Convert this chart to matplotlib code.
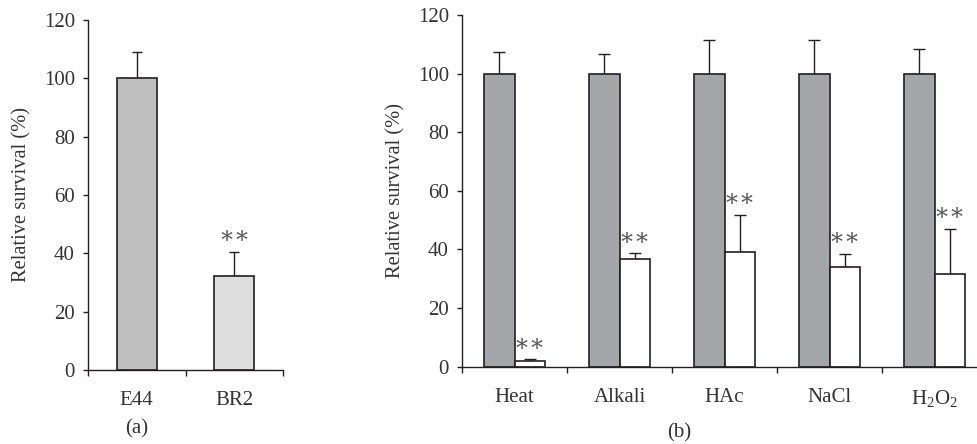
import numpy as np
import matplotlib
matplotlib.use("Agg")
import matplotlib.pyplot as plt

plt.rcParams['font.family'] = ['Liberation Serif', 'DejaVu Serif']
plt.rcParams['mathtext.fontset'] = 'custom'
plt.rcParams['mathtext.rm'] = 'Liberation Serif'

# panel (a)
strains = ['E44', 'BR2']
strain_mean = [100, 32.2]
strain_err = [9.1, 8.4]
strain_colors = ['#c0c0c0', '#dedede']

# panel (b)
stresses = ['Heat', 'Alkali', 'HAc', 'NaCl', r'$\mathrm{H_2O_2}$']
e44_mean = [100, 100, 100, 100, 100]
e44_err = [7.5, 6.8, 11.5, 11.3, 8.4]
br2_mean = [2.0, 36.8, 39.0, 33.9, 31.5]
br2_err = [0.5, 1.9, 12.9, 4.7, 15.6]

TXT = '#333333'
EDGE = '#231f20'


def style_axes(ax):
    for s in ['top', 'right']:
        ax.spines[s].set_visible(False)
    for s in ['left', 'bottom']:
        ax.spines[s].set_color(EDGE)
        ax.spines[s].set_linewidth(1.0)
    ax.set_ylim(0, 120)
    ax.set_yticks(range(0, 121, 20))
    ax.tick_params(axis='y', direction='out', length=3.5, width=1, colors=EDGE,
                   labelcolor=TXT, labelsize=15, pad=6)
    ax.tick_params(axis='x', which='major', length=0, labelcolor=TXT,
                   labelsize=15, pad=15)
    ax.tick_params(axis='x', which='minor', direction='out', length=4,
                   width=1, colors=EDGE)
    ax.set_ylabel('Relative survival (%)', fontsize=14.8, color=TXT, labelpad=9)


def stars(ax, x, y):
    ax.text(x, y + 1.5, '\u2217\u2217', ha='center', va='bottom',
            fontsize=17, color='#555555', family=['DejaVu Serif'])


fig = plt.figure(figsize=(9.77, 4.44), dpi=100)

# (a)
ax1 = fig.add_axes([88 / 977, 74 / 444, 195 / 977, 350 / 444])
xa = np.arange(len(strains))
ax1.bar(xa, strain_mean, width=0.41, color=strain_colors, edgecolor=EDGE,
        linewidth=1.2, zorder=2)
ax1.errorbar(xa, strain_mean, yerr=[np.zeros(2), strain_err], fmt='none',
             ecolor=EDGE, elinewidth=1, capsize=3.5, capthick=1, zorder=1)
ax1.set_xlim(-0.5, 1.5)
ax1.set_xticks(xa)
ax1.set_xticklabels(strains)
ax1.set_xticks([-0.5, 0.5, 1.5], minor=True)
style_axes(ax1)
stars(ax1, xa[1], strain_mean[1] + strain_err[1])
ax1.text(0, -20.3, '(a)', ha='center', va='center', fontsize=15, color=TXT,
         transform=ax1.transData)

# (b)
ax2 = fig.add_axes([462 / 977, 77.3 / 444, 525 / 977, 351.7 / 444])
xb = np.arange(len(stresses))
w = 0.29
ax2.bar(xb - w / 2, e44_mean, width=w, color='#a5a6aa', edgecolor=EDGE,
        linewidth=1.2, zorder=2)
ax2.bar(xb + w / 2, br2_mean, width=w, color='white', edgecolor=EDGE,
        linewidth=1.2, zorder=2)
ax2.errorbar(xb - w / 2, e44_mean, yerr=[np.zeros(5), e44_err], fmt='none',
             ecolor=EDGE, elinewidth=1, capsize=4, capthick=1, zorder=1)
ax2.errorbar(xb + w / 2, br2_mean, yerr=[np.zeros(5), br2_err], fmt='none',
             ecolor=EDGE, elinewidth=1, capsize=4, capthick=1, zorder=1)
ax2.set_xlim(-0.5, 4.5)
ax2.set_xticks(xb)
ax2.set_xticklabels(stresses)
ax2.set_xticks(np.arange(-0.5, 5, 1), minor=True)
style_axes(ax2)
for i in range(len(stresses)):
    stars(ax2, xb[i] + w / 2, br2_mean[i] + br2_err[i])
ax2.text(1.57, -22.5, '(b)', ha='center', va='center', fontsize=15,
         color=TXT, transform=ax2.transData, clip_on=False)

fig.savefig('out.png', dpi=100)
